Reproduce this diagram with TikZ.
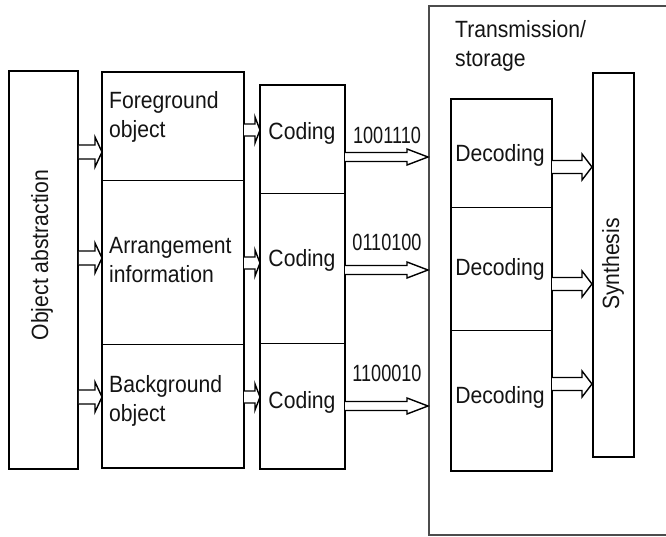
\documentclass[tikz,border=0pt]{standalone}
\usepackage{fontspec}
\setmainfont{Liberation Sans}[FakeStretch=0.9]
\newfontfamily\numfont{Liberation Sans}[FakeStretch=0.77]
\usetikzlibrary{calc}

% hollow block arrow from the east side of #1 to the west side of #2 at height #3;
% #4 = half shaft width, #5 = half head width, #6 = head length
\newcommand\hollowarrow[6]{%
  \draw[harrow] let \p1=(#1.east |- 0,#3), \p2=(#2.west |- 0,#3) in
    (\x1,\y1+#4pt) -- (\x2-#6pt,\y1+#4pt) -- (\x2-#6pt,\y1+#5pt) -- (\x2,\y1)
    -- (\x2-#6pt,\y1-#5pt) -- (\x2-#6pt,\y1-#4pt) -- (\x1,\y1-#4pt);}

\begin{document}
\begin{tikzpicture}[x=1pt,y=-1pt,
  frame/.style={draw, line width=1.8pt, inner sep=0pt, anchor=north west},
  cell/.style={draw, line width=1.1pt, inner sep=0pt, anchor=north west},
  outline/.style={line width=1.8pt},
  lbl/.style={font=\fontsize{23.5}{29}\selectfont, inner sep=0pt, align=left,
              text=black!92},
  num/.style={font=\numfont\fontsize{23.5}{28}\selectfont, inner sep=0pt,
              text=black!92},
  harrow/.style={draw, line width=1.4pt, fill=white, line join=miter},
]
\useasboundingbox (0,0) rectangle (666,536);

% transmission / storage enclosure (runs off the right edge)
\node[frame, draw=black!70, line width=2pt, minimum width=242pt,
      minimum height=529pt] (ts) at (428,5) {};
\node[lbl, anchor=west] (tstext) at (455,46) {Transmission/\\storage};

% object abstraction
\node[frame, minimum width=69pt, minimum height=398pt] (oa) at (8,70) {};
\node[lbl, rotate=90] (oatext) at (42,255) {Object abstraction};

% object layers
\node[cell, minimum width=141pt, minimum height=108pt] (fg) at (102,72) {};
\node[cell, minimum width=141pt, minimum height=164pt] (arr) at (102,180) {};
\node[cell, minimum width=141pt, minimum height=123pt] (bg) at (102,344) {};
\draw[outline] (fg.north west) rectangle (bg.south east);
\node[lbl, anchor=west] (fgtext) at (109,117) {Foreground\\object};
\node[lbl, anchor=west] (arrtext) at (109,260) {Arrangement\\information};
\node[lbl, anchor=west] (bgtext) at (109,401) {Background\\object};

% coders
\node[cell, minimum width=84pt, minimum height=108pt] (c1) at (260,85) {};
\node[cell, minimum width=84pt, minimum height=150pt] (c2) at (260,193) {};
\node[cell, minimum width=84pt, minimum height=125pt] (c3) at (260,343) {};
\draw[outline] (c1.north west) rectangle (c3.south east);
\node[lbl] (c1text) at (302,133) {Coding};
\node[lbl] (c2text) at (302,260) {Coding};
\node[lbl] (c3text) at (302,402) {Coding};

% decoders
\node[cell, minimum width=100pt, minimum height=108pt] (d1) at (451,99) {};
\node[cell, minimum width=100pt, minimum height=123pt] (d2) at (451,207) {};
\node[cell, minimum width=100pt, minimum height=140pt] (d3) at (451,330) {};
\draw[outline] (d1.north west) rectangle (d3.south east);
\node[lbl] (d1text) at (500,155) {Decoding};
\node[lbl] (d2text) at (500,269) {Decoding};
\node[lbl] (d3text) at (500,397) {Decoding};

% synthesis
\node[frame, minimum width=41pt, minimum height=384pt] (syn) at (592,72) {};
\node[lbl, rotate=90] (syntext) at (613,264) {Synthesis};

% abstraction -> layers
\hollowarrow{oa}{fg}{152}{7}{15}{7}
\hollowarrow{oa}{arr}{258}{7}{15}{7}
\hollowarrow{oa}{bg}{397}{7}{15}{7}

% layers -> coders
\hollowarrow{fg}{c1}{130}{6}{13}{5}
\hollowarrow{arr}{c2}{263}{6}{13}{5}
\hollowarrow{bg}{c3}{397}{6}{13}{5}

% coders -> channel, with bit strings
\hollowarrow{c1}{ts}{157}{4.5}{8}{21}
\hollowarrow{c2}{ts}{270}{4.5}{8}{21}
\hollowarrow{c3}{ts}{406}{4.5}{8}{21}
\node[num] (b1) at (387,135) {1001110};
\node[num] (b2) at (387,242) {0110100};
\node[num] (b3) at (387,373) {1100010};

% decoders -> synthesis
\hollowarrow{d1}{syn}{167}{6.5}{13}{10}
\hollowarrow{d2}{syn}{284}{6.5}{13}{10}
\hollowarrow{d3}{syn}{384}{6.5}{13}{10}
\end{tikzpicture}
\end{document}
